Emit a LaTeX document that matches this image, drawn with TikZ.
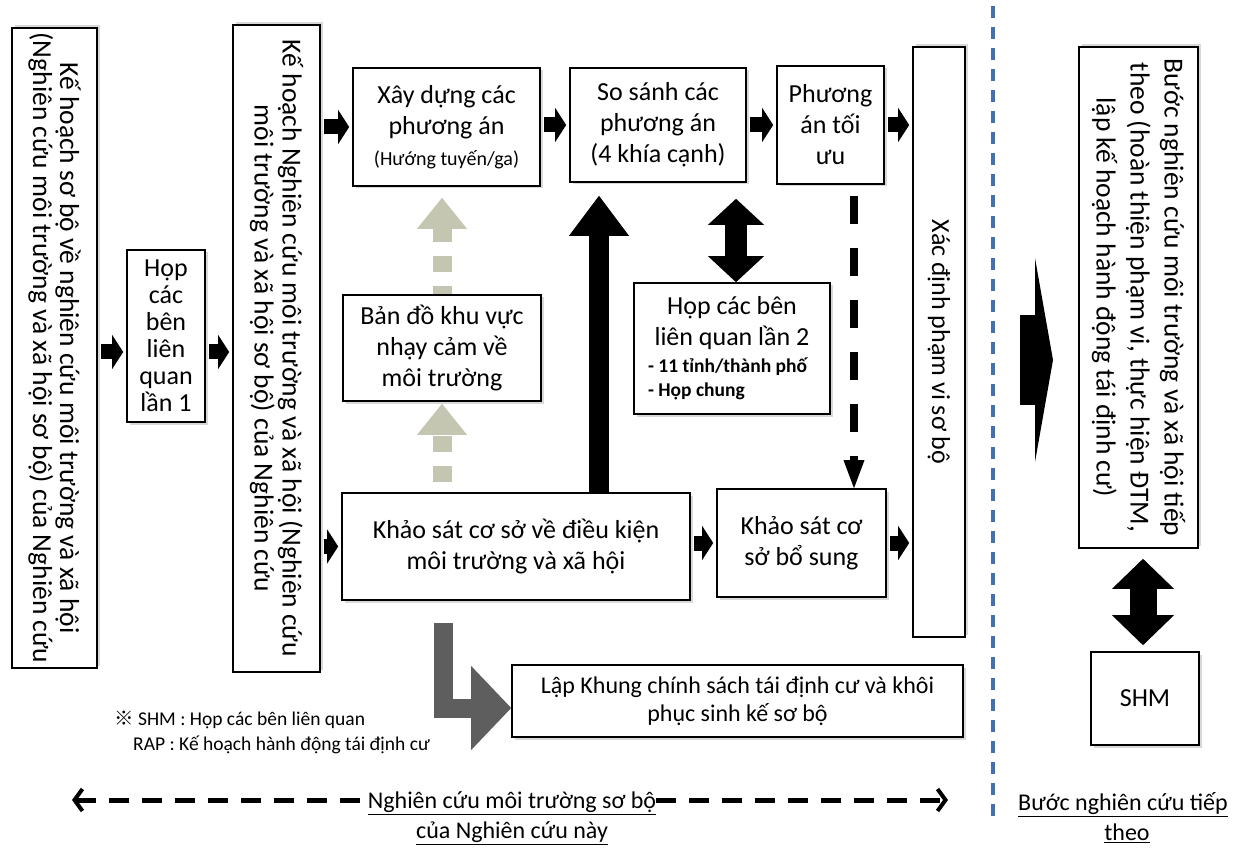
\documentclass[tikz,border=0pt]{standalone}
\usepackage{fontspec}
\setmainfont{Carlito}
\newfontfamily\refmark{Noto Sans CJK JP}
\usetikzlibrary{arrows.meta, shadows}
\definecolor{olivegrey}{RGB}{196,198,178}
\definecolor{darkgrey}{RGB}{94,94,94}
\definecolor{sepblue}{RGB}{68,112,178}
\tikzset{ bx/.style     = { rectangle
                          , draw
                          , fill         = white
                          , line width   = 1.6pt
                          , inner sep    = 2pt
                          , align        = center
                          , font         = \fontsize{26}{31}\selectfont
                          },
          hb/.style     = { bx
                          , drop shadow  = {shadow xshift=2.5pt, shadow yshift=-2.5pt, opacity=.3}
                          },
          vb/.style     = { bx
                          , rotate       = -90
                          , drop shadow  = {shadow xshift=2.5pt, shadow yshift=2.5pt, opacity=.3}
                          },
          blk/.style    = { line width   = 15pt
                          , -{Triangle[length=11pt, width=34pt, line width=0pt]}
                          , shorten <=3pt
                          , shorten >=3pt
                          },
          dblk/.style   = { line width   = 22pt
                          , {Triangle[length=26pt, width=56pt, line width=0pt]}-{Triangle[length=26pt, width=56pt, line width=0pt]}
                          },
          dsh/.style    = { line width   = 8pt
                          , dash pattern = on 28pt off 24pt
                          , -{Triangle[length=28pt, width=21pt, line width=0pt]}
                          },
          gdsh/.style   = { olivegrey
                          , line width   = 19pt
                          , dash pattern = on 16pt off 14pt
                          , -{Triangle[length=31pt, width=50pt, line width=0pt]}
                          },
          garr/.style   = { darkgrey
                          , line width   = 19pt
                          , -{Triangle[length=40pt, width=84pt, line width=0pt]}
                          },
          ddsh/.style   = { line width   = 5pt
                          , dash pattern = on 20pt off 13pt
                          },
          mybarb/.tip   = {Straight Barb[length=8pt, width=22pt, line width=4pt]},
          divline/.style= { sepblue
                          , line width   = 3.5pt
                          , dash pattern = on 12pt off 9pt
                          },
          lbl/.style    = { inner sep    = 0pt
                          , font         = \fontsize{24}{28}\selectfont
                          },
          fnote/.style  = { inner sep    = 0pt
                          , anchor       = west
                          , font         = \fontsize{19.5}{22}\selectfont
                          }
        }

\begin{document}
\begin{tikzpicture}[x=1pt, y=-1pt]
\fill[white] (0,0) rectangle (1240,850);
\useasboundingbox (0,0) rectangle (1240,850);

% boxes
\node[vb, minimum width=640pt, minimum height=85pt, font=\fontsize{27.5}{27}\selectfont] (plan0) at (54.5,348)
    {Kế hoạch sơ bộ về nghiên cứu môi trường và xã hội\\(Nghiên cứu môi trường và xã hội sơ bộ) của Nghiên cứu};
\node[hb, minimum width=78pt, minimum height=172pt, font=\fontsize{26}{27}\selectfont] (shm1) at (166,336)
    {Họp\\các\\bên\\liên\\quan\\lần 1};
\node[vb, minimum width=647pt, minimum height=87pt, font=\fontsize{27.5}{28}\selectfont] (plan) at (276.5,348.5)
    {Kế hoạch Nghiên cứu môi trường và xã hội (Nghiên cứu\\môi trường và xã hội sơ bộ) của Nghiên cứu};
\node[hb, minimum width=187pt, minimum height=118pt] (build) at (446.5,127)
    {Xây dựng các\\phương án\\{\fontsize{20}{24}\selectfont (Hướng tuyến/ga)}};
\node[hb, minimum width=176pt, minimum height=114pt] (compare) at (658,125)
    {So sánh các\\phương án\\(4 khía cạnh)};
\node[hb, minimum width=107pt, minimum height=118pt] (optim) at (830.5,125)
    {Phương\\án tối\\ưu};
\node[vb, minimum width=590pt, minimum height=52pt] (prelim) at (939,342)
    {Xác định phạm vi sơ bộ};
\node[hb, minimum width=198pt, minimum height=106pt] (map) at (442,348)
    {Bản đồ khu vực\\nhạy cảm về\\môi trường};
\node[hb, minimum width=196pt, minimum height=131pt] (shm2) at (732,348.5)
    {Họp các bên\\liên quan lần 2\\[-4pt]
     {\fontsize{19.5}{22}\selectfont\bfseries\makebox[168pt][l]{- 11 tỉnh/thành phố}}\\[-7pt]
     {\fontsize{19.5}{22}\selectfont\bfseries\makebox[168pt][l]{- Họp chung}}};
\node[hb, minimum width=348pt, minimum height=107pt] (survey) at (516,546.5)
    {Khảo sát cơ sở về điều kiện\\môi trường và xã hội};
\node[hb, minimum width=169pt, minimum height=108pt] (addsurvey) at (801.5,543)
    {Khảo sát cơ\\sở bổ sung};
\node[hb, minimum width=451pt, minimum height=72pt, font=\fontsize{24}{28}\selectfont] (rap) at (737.5,701)
    {Lập Khung chính sách tái định cư và khôi\\phục sinh kế sơ bộ};
\node[vb, minimum width=501pt, minimum height=119pt, font=\fontsize{27.5}{34}\selectfont] (next) at (1138.5,297.5)
    {Bước nghiên cứu môi trường và xã hội tiếp\\theo (hoàn thiện phạm vi, thực hiện ĐTM,\\lập kế hoạch hành động tái định cư)};
\node[hb, minimum width=108pt, minimum height=93pt] (shmnext) at (1145,698.5) {SHM};

% notes and labels
\node[fnote] (fn1) at (114,720) {{\refmark ※} SHM : Họp các bên liên quan};
\node[fnote] (fn2) at (133,745) {RAP : Kế hoạch hành động tái định cư};
\node[lbl] (span1) at (512,803) {\underline{Nghiên cứu môi trường sơ bộ}};
\node[lbl] (span2) at (512,833) {\underline{của Nghiên cứu này}};
\node[lbl] (step1) at (1123,805) {\underline{Bước nghiên cứu tiếp}};
\node[lbl] (step2) at (1127,833) {\underline{theo}};

% flow arrows
\draw[blk] (plan0.north |- 0,352) -- (shm1.west |- 0,352);
\draw[blk] (shm1.east |- 0,352) -- (plan.south |- 0,352);
\draw[blk] (plan.north |- build.west) -- (build.west);
\draw[blk] (plan.north |- survey.west) -- (survey.west);
\draw[blk] (build.east |- compare.west) -- (compare.west);
\draw[blk] (compare.east) -- (optim.west);
\draw[blk] (optim.east) -- (optim.east -| prelim.south);
\draw[blk] (survey.east |- addsurvey.west) -- (addsurvey.west);
\draw[blk] (addsurvey.east) -- (addsurvey.east -| prelim.south);
\draw[blk, line width=20pt, -{Triangle[length=40pt, width=60pt, line width=0pt]}, shorten <=0pt, shorten >=13pt]
    (survey.north -| 599,0) -- (compare.south -| 599,0);
\draw[dblk, shorten <=16pt] (compare.south -| 736,0) -- (shm2.north -| 736,0);
\draw[dsh, shorten <=11pt] (optim.south -| 854,0) -- (addsurvey.north -| 854,0);
\draw[gdsh, dash phase=20pt, shorten >=2pt] (survey.north -| 442,0) -- (map.south -| 442,0);
\draw[gdsh, dash phase=8pt, shorten >=11pt] (map.north -| 442,0) -- (build.south -| 442,0);
\draw[garr, shorten <=22pt] (survey.south -| 443,0) |- ([yshift=-7pt]rap.west);

% next step
\coordinate (bigs) at (1020,360);
\coordinate (bige) at (1053,360);
\draw[line width=90pt, -{Triangle[length=18pt, width=204pt, line width=0pt]}] (bigs) -- (bige);
\draw[dblk, line width=27pt, {Triangle[length=30pt, width=62pt, line width=0pt]}-{Triangle[length=30pt, width=62pt, line width=0pt]},
      shorten <=10pt, shorten >=6pt] (next.east -| 1143,0) -- (shmnext.north -| 1143,0);

% divider and span arrows
\coordinate (divtop) at (993,6);
\coordinate (divbot) at (993,818);
\draw[divline] (divtop) -- (divbot);
\coordinate (lft) at (72,800);
\coordinate (rgt) at (948,800);
\draw[ddsh, mybarb-] (lft) -- (lft -| span1.west);
\draw[ddsh, -mybarb] (rgt -| span1.east) -- (rgt);
\end{tikzpicture}
\end{document}
